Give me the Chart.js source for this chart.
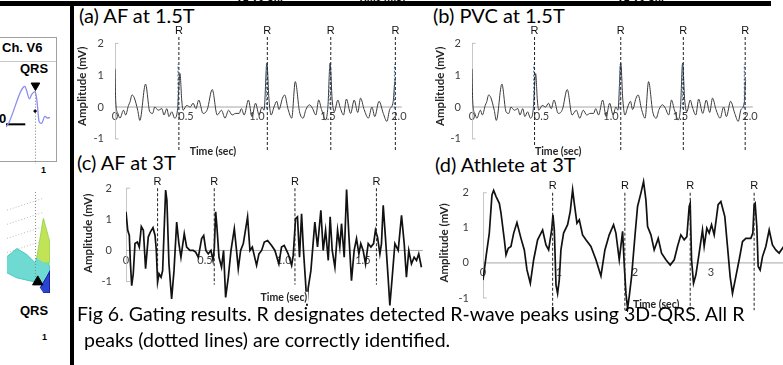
<!DOCTYPE html>
<html>
<head>
<meta charset="utf-8">
<title>Fig 6. Gating results</title>
<script src="https://cdn.jsdelivr.net/npm/chart.js@4.4.1/dist/chart.umd.min.js"></script>
<style>
  html, body { margin: 0; padding: 0; background: #fff; }
  #page { position: relative; width: 783px; height: 365px; overflow: hidden; font-family: Lato, "Open Sans", sans-serif; color: #000; }
  #page canvas { position: absolute; }
  .bar { position: absolute; background: #000; z-index: 5; }
  .title { position: absolute; font-size: 20px; line-height: 22px; white-space: nowrap; }
  .caption { position: absolute; font-size: 20px; line-height: 26px; white-space: nowrap; }
  .cut { position: absolute; font: bold 10px "Liberation Sans", Arial, sans-serif; line-height: 10px; white-space: nowrap; }
  .lbl { position: absolute; font-family: "Liberation Sans", Arial, sans-serif; font-weight: bold; white-space: nowrap; line-height: 1; }
</style>
</head>
<body>
<div id="page">
  <!-- bottom edge of the figure above, cut off -->
  <div class="cut" style="left:236px;top:-7px">V1-V6 Ch.</div>
  <div class="cut" style="left:358px;top:-7px">Time [ms]</div>
  <div class="cut" style="left:617px;top:-7px">V1-V6 Ch.</div>
  <div class="bar" style="left:0;top:1px;width:771px;height:5px"></div>
  <div class="bar" style="left:70px;top:1px;width:4px;height:364px"></div>

  <!-- left strip: cropped part of the previous figure -->
  <div style="position:absolute;left:-1px;top:37px;width:56px;height:123px;border:1px solid #a0a0a0;"></div>
  <div style="position:absolute;left:0;top:61px;width:56px;border-top:1px solid #c8c8c8;"></div>
  <div class="lbl" style="left:2px;top:41px;font-size:13px">Ch. V6</div>
  <div class="lbl" style="left:20px;top:62px;font-size:13px">QRS</div>
  <div class="lbl" style="left:-1px;top:112px;font-size:13px">0</div>
  <div class="lbl" style="left:41px;top:166px;font-size:9px">1</div>
  <canvas id="v6Chart" width="56" height="109" style="left:0;top:61px"></canvas>
  <canvas id="surfChart" width="57" height="115" style="left:0;top:185px"></canvas>
  <div class="lbl" style="left:20px;top:304px;font-size:13px">QRS</div>
  <div class="lbl" style="left:42px;top:333px;font-size:9px">1</div>

  <div class="title" style="left:79px;top:4px">(a) AF at 1.5T</div>
  <div class="title" style="left:433px;top:4px">(b) PVC at 1.5T</div>
  <div class="title" style="left:77px;top:151px">(c) AF at 3T</div>
  <div class="title" style="left:435px;top:153px">(d) Athlete at 3T</div>

  <canvas id="chartA" width="335" height="138" style="left:76px;top:26px"></canvas>
  <canvas id="chartB" width="329" height="138" style="left:433px;top:26px"></canvas>
  <canvas id="chartC" width="352" height="140" style="left:78px;top:172px"></canvas>
  <canvas id="chartD" width="348" height="147" style="left:435px;top:168px"></canvas>

  <div class="caption" id="cap1" style="left:77px;top:301px">Fig 6. Gating results. R designates detected R-wave peaks using 3D-QRS. All R</div>
  <div class="caption" id="cap2" style="left:79px;top:327px">&nbsp;peaks (dotted lines) are correctly identified.</div>
</div>

<script>
// ---- data ----

// (a) AF at 1.5T  (time in sec, amplitude in mV)
var timeA = [0,0.005,0.02,0.035,0.06,0.075,0.095,0.105,0.12,0.135,0.16,0.175,0.215,0.245,0.265,0.28,0.305,0.33,0.345,0.365,
  0.38,0.40,0.42,0.44,0.458,0.47,0.48,0.505,0.53,0.55,0.57,0.59,0.62,0.65,0.685,0.72,0.75,0.775,0.80,0.825,
  0.85,0.875,0.89,0.91,0.94,0.965,0.99,1.015,1.035,1.05,1.07,1.085,1.10,1.12,1.14,1.155,1.18,1.195,1.22,1.245,
  1.27,1.30,1.325,1.345,1.37,1.39,1.415,1.435,1.455,1.485,1.50,1.515,1.53,1.545,1.57,1.585,1.61,1.63,1.66,1.685,
  1.71,1.73,1.755,1.785,1.81,1.83,1.86,1.89,1.915,1.935,1.96,1.97,1.975];
var ampA = [1.2,0.2,-0.2,-0.35,-0.1,-0.25,0.05,0.15,0.38,0.3,-0.1,-0.42,0.72,-0.15,-0.2,0.0,-0.1,-0.05,-0.25,-0.05,
  -0.3,-0.15,-0.35,-0.1,1.05,0.22,-0.1,0.05,0.0,0.12,-0.05,0.22,-0.2,-0.08,0.55,-0.25,-0.1,-0.35,-0.1,-0.25,
  -0.2,-0.2,-0.05,-0.25,0.22,-0.3,0.12,-0.25,0.0,-0.1,1.38,0.22,-0.25,0.0,0.18,-0.08,0.28,0.38,-0.08,-0.35,
  0.8,-0.15,-0.35,-0.08,0.07,-0.03,-0.25,0.22,-0.08,-0.4,0.02,1.38,0.22,-0.15,0.22,0.0,-0.25,0.25,-0.2,0.22,
  -0.17,0.28,-0.08,-0.35,0.0,-0.3,0.18,-0.2,-0.45,-0.08,0.18,0.75,0.85];
var rTimesA = [0.45, 1.073, 1.52, 1.975];

// (b) PVC at 1.5T
var timeB = [0,0.005,0.02,0.035,0.06,0.075,0.095,0.105,0.12,0.135,0.16,0.175,0.215,0.245,0.265,0.28,0.305,0.33,0.345,0.365,
  0.38,0.40,0.42,0.44,0.458,0.47,0.48,0.505,0.53,0.55,0.57,0.59,0.62,0.65,0.685,0.72,0.75,0.775,0.80,0.825,
  0.85,0.875,0.89,0.91,0.94,0.965,0.99,1.015,1.035,1.05,1.07,1.085,1.10,1.12,1.14,1.155,1.18,1.195,1.22,1.245,
  1.27,1.30,1.325,1.345,1.37,1.39,1.415,1.435,1.455,1.485,1.50,1.515,1.53,1.545,1.57,1.585,1.61,1.63,1.66,1.685,
  1.71,1.73,1.755,1.785,1.81,1.83,1.86,1.89,1.915,1.935,1.96,1.965,1.97];
var ampB = [1.2,0.2,-0.2,-0.35,-0.1,-0.25,0.05,0.15,0.38,0.3,-0.1,-0.42,0.72,-0.15,-0.2,0.0,-0.1,-0.05,-0.25,-0.05,
  -0.3,-0.15,-0.35,-0.1,1.05,0.22,-0.1,0.05,0.0,0.12,-0.05,0.22,-0.2,-0.08,0.55,-0.25,-0.1,-0.35,-0.1,-0.25,
  -0.2,-0.2,-0.05,-0.25,0.22,-0.3,0.12,-0.25,0.0,-0.1,1.38,0.22,-0.25,0.0,0.18,-0.08,0.28,0.38,-0.08,-0.35,
  0.8,-0.15,-0.35,-0.08,0.07,-0.03,-0.25,0.22,-0.08,-0.4,0.02,1.38,0.22,-0.15,0.22,0.0,-0.25,0.25,-0.2,0.22,
  -0.17,0.28,-0.08,-0.35,0.0,-0.3,0.18,-0.2,-0.45,-0.08,0.18,0.75,0.85];
var rTimesB = [0.45, 1.07, 1.52, 1.965];

// (c) AF at 3T
var timeC = [0,0.011,0.021,0.027,0.036,0.046,0.057,0.072,0.084,0.097,0.11,0.124,0.141,0.154,0.171,0.184,0.192,0.2,0.209,0.222,
  0.232,0.243,0.251,0.259,0.272,0.289,0.304,0.321,0.335,0.348,0.369,0.384,0.405,0.426,0.441,0.458,0.479,0.492,0.506,0.521,
  0.538,0.551,0.559,0.568,0.576,0.589,0.605,0.618,0.631,0.648,0.665,0.686,0.7,0.711,0.726,0.743,0.77,0.785,0.8,0.827,
  0.842,0.859,0.876,0.897,0.922,0.943,0.968,0.985,1.002,1.027,1.049,1.059,1.074,1.086,1.099,1.112,1.124,1.137,1.146,1.154,1.171,
  1.196,1.213,1.234,1.249,1.264,1.281,1.293,1.306,1.323,1.34,1.354,1.365,1.382,1.397,1.411,1.428,1.445,1.46,1.475,1.487,
  1.502,1.517,1.534,1.551,1.568,1.58,1.593,1.608,1.618,1.629,1.643,1.66,1.671,1.686,1.703,1.724,1.745,1.762,1.776,1.791,
  1.808,1.825,1.84,1.854,1.871];
var ampC = [1.24,0.65,0.48,-0.32,-1.13,-0.75,0.22,0.27,0.11,0.77,0.65,-0.59,0.43,0.59,0.73,0.48,0.0,-1.02,-0.75,-0.86,
  -0.65,0.86,1.94,1.61,-0.43,-1.56,-0.65,0.91,0.22,-0.22,0.54,0.11,0.0,0.0,-0.05,-0.22,0.38,0.48,0.0,-0.11,
  0.0,-0.32,0.05,1.24,0.75,-0.22,-0.54,0.0,-1.51,-0.86,0.0,0.7,0.0,-0.59,0.0,0.22,1.08,0.0,0.11,-0.48,
  -0.11,0.0,0.27,0.32,0.16,0.0,-0.43,0.11,0.16,-0.11,-0.48,-0.16,1.02,1.08,-0.22,1.18,0.0,-1.0,-1.78,-1.2,-0.65,
  0.91,0.11,1.29,0.0,0.65,-0.32,1.08,0.0,-0.54,0.65,0.11,0.86,-0.22,1.96,0.54,-0.97,0.0,0.38,-0.11,0.22,
  0.0,-0.43,0.22,0.11,0.22,0.65,0.43,-0.11,0.22,1.45,0.43,-0.86,-1.77,-0.86,0.22,0.0,1.13,0.22,-0.86,0.0,
  -0.43,-0.22,-0.32,-0.11,-0.54];
var rTimesC = [0.2, 0.559, 1.07, 1.586];

// (d) Athlete at 3T
var timeD = [0,0.04,0.083,0.118,0.14,0.171,0.215,0.237,0.281,0.303,0.333,0.368,0.404,0.447,0.5,0.544,0.579,0.623,0.667,0.719,
  0.785,0.829,0.864,0.904,0.921,0.939,0.961,0.982,1.004,1.026,1.061,1.114,1.149,1.18,1.202,1.237,1.268,1.311,1.355,1.421,
  1.487,1.553,1.605,1.662,1.719,1.75,1.794,1.838,1.86,1.882,1.904,1.925,1.956,2.0,2.035,2.079,2.114,2.145,2.167,2.211,
  2.254,2.307,2.351,2.408,2.465,2.518,2.561,2.605,2.649,2.684,2.715,2.728,2.746,2.772,2.803,2.846,2.89,2.912,2.947,2.978,
  3.009,3.044,3.096,3.132,3.184,3.219,3.254,3.285,3.329,3.373,3.417,3.461,3.526,3.553,3.57,3.583,3.605,3.623,3.649,3.68,
  3.724,3.768,3.811,3.855,3.899,3.96];
var ampD = [-0.49,0.18,0.85,1.94,2.07,1.9,1.7,1.42,0.66,0.23,0.42,0.47,0.85,1.15,0.7,0.37,-0.2,-0.58,0.09,0.66,
  0.94,0.51,0.37,0.94,1.37,0.94,-0.63,-0.87,-0.49,0.37,0.85,1.09,1.47,2.09,1.7,1.13,1.23,0.8,0.66,0.47,
  0.09,-0.37,0.37,0.8,1.09,0.85,0.09,0.9,-0.06,-0.87,-1.3,-0.96,-0.39,0.75,1.61,1.99,2.32,1.8,1.04,0.8,
  0.37,0.7,0.28,0.09,-0.06,0.09,0.47,0.8,0.66,0.75,1.61,1.7,0.09,-0.58,-0.34,0.28,0.94,0.47,0.99,0.85,
  1.09,0.8,1.66,1.75,1.32,0.47,-0.39,-0.87,-0.39,0.09,0.61,0.7,0.7,0.85,1.66,1.7,1.04,-0.1,-0.2,0.18,
  0.47,0.94,0.51,0.37,0.28,0.47];
var rTimesD = [0.917, 1.868, 2.728, 3.57];

var yTicks = [-1, 0, 1, 2];
var xTicksSec = [0, 0.5, 1, 1.5, 2];
var xTicksD = [0, 1, 2, 3];

// left strip (cropped V6 trace and 3D surface of the previous figure, arbitrary units)
var v6Time = [0,0.1,0.2,0.32,0.42,0.51,0.56,0.61,0.69,0.76,0.86,0.91,0.98,1.05,1.15,1.23,1.3];
var v6Amp = [0.32,0.38,0.48,0.61,0.71,0.77,0.78,0.73,0.64,0.69,0.72,0.63,0.38,0.36,0.44,0.42,0.43];
var v6Qrs = 0.87;

var surfTealX = [0,0.3,0.6,0.85,1.0,1.1,1.2,1.3,1.3,1.0,0.7,0.3,0];
var surfTealY = [0.36,0.44,0.38,0.3,0.45,0.72,0.42,0.22,0.06,0.1,0.12,0.15,0.2];
var surfPeakX = [0.9,1.1,1.25,1.3,1.3,1.12];
var surfPeakY = [0.35,0.74,0.56,0.5,0.3,0.3];
var surfBlueX = [1.0,1.2,1.3,1.3,1.1];
var surfBlueY = [0.05,0.16,0.22,0.0,0.0];
var surfGridY = [0.88, 0.74, 0.6, 0.46];

// ---- drawing ----

function pts(xs, ys) {
  return xs.map(function (x, i) { return { x: x, y: ys[i] }; });
}

// R labels, the y title and the x title (white backed, as in the figure), placed through the chart scales
var panelText = {
  id: 'panelText',
  afterDraw: function (chart) {
    var o = chart.options.plugins.panelText;
    if (!o) return;
    var ctx = chart.ctx, xs = chart.scales.x, ys = chart.scales.y;
    ctx.save();
    ctx.fillStyle = '#111';
    ctx.textAlign = 'center';
    ctx.textBaseline = 'bottom';
    ctx.font = '11px "Liberation Sans", Arial, sans-serif';
    o.rTimes.forEach(function (t) {
      ctx.fillText('R', xs.getPixelForValue(t), ys.getPixelForValue(o.rTop) - 1);
    });

    ctx.font = 'bold 10.5px Lato, sans-serif';
    ctx.textBaseline = 'middle';
    var tx = xs.getPixelForValue(o.titleX), ty = ys.getPixelForValue(o.titleY);
    var tw = ctx.measureText('Time (sec)').width;
    ctx.fillStyle = '#fff';
    ctx.fillRect(tx - tw / 2 - 1, ty - 6, tw + 2, 12);
    ctx.fillStyle = '#262626';
    ctx.fillText('Time (sec)', tx, ty);

    ctx.font = 'bold 11.5px Lato, sans-serif';
    ctx.translate(o.yTitleX, ys.getPixelForValue(o.yTitleMid));
    ctx.rotate(-Math.PI / 2);
    ctx.fillText('Amplitude (mV)', 0, 0);
    ctx.restore();
  }
};

function makePanel(id, p) {
  var line = { showLine: true, pointRadius: 0, fill: false };
  var datasets = [];

  p.rTimes.forEach(function (t) {
    datasets.push(Object.assign({}, line, {
      data: [{ x: t, y: p.rTop }, { x: t, y: p.rBottom }],
      borderColor: '#222', borderWidth: 1, borderDash: [3, 2]
    }));
    if (p.blue) {
      datasets.push(Object.assign({}, line, {
        data: [{ x: t - 0.006, y: -0.05 }, { x: t - 0.006, y: 1.35 }],
        borderColor: '#4f81bd', borderWidth: 1.2, borderDash: [2, 2]
      }));
    }
  });

  datasets.push(Object.assign({}, line, {
    data: pts(p.time, p.amp),
    borderColor: p.color, borderWidth: p.lineWidth,
    cubicInterpolationMode: p.smooth ? 'monotone' : 'default',
    tension: p.smooth ? 0.4 : 0
  }));

  // axis lines: zero line and the y axis with its end ticks
  datasets.push(Object.assign({}, line, {
    data: [{ x: 0, y: 0 }, { x: p.zeroEnd, y: 0 }],
    borderColor: '#a6a6a6', borderWidth: 1
  }));
  datasets.push(Object.assign({}, line, {
    data: [{ x: p.tickLen, y: 2 }, { x: 0, y: 2 }, { x: 0, y: -1 }, { x: p.tickLen, y: -1 }],
    borderColor: '#bfbfbf', borderWidth: 1
  }));

  var tickFont = { family: 'Lato', size: 11 };

  return new Chart(document.getElementById(id), {
    type: 'scatter',
    data: { datasets: datasets },
    plugins: [panelText],
    options: {
      responsive: false,
      animation: false,
      events: [],
      layout: { padding: { top: p.padTop, bottom: p.padBottom, right: p.padRight, left: 0 } },
      plugins: {
        legend: { display: false },
        tooltip: { enabled: false },
        panelText: { rTimes: p.rTimes, rTop: p.rTop, titleX: p.titleX, titleY: p.titleY,
                     yTitleX: p.yTitleX, yTitleMid: p.yTitleMid }
      },
      scales: {
        x: {
          type: 'linear', min: 0, max: p.xMax, position: { y: 0 },
          afterBuildTicks: function (s) { s.ticks = p.xTicks.map(function (v) { return { value: v }; }); },
          afterFit: function (s) { s.paddingLeft = 0; s.paddingRight = 0; },
          grid: { display: false, drawTicks: false },
          border: { display: false },
          ticks: { padding: p.xTickPad, font: tickFont, color: '#404040', autoSkip: false, maxRotation: 0 }
        },
        y: {
          type: 'linear', min: p.yMin, max: p.yMax, position: 'left',
          afterBuildTicks: function (s) { s.ticks = yTicks.map(function (v) { return { value: v }; }); },
          afterFit: function (s) { s.width = p.axisW; s.paddingTop = 0; s.paddingBottom = 0; },
          grid: { display: false, drawTicks: false },
          border: { display: false },
          ticks: { padding: p.yTickPad, font: tickFont, color: '#404040' }
        }
      }
    }
  });
}

makePanel('chartA', {
  time: timeA, amp: ampA, rTimes: rTimesA, xTicks: xTicksSec, xMax: 2.05, zeroEnd: 2.02,
  yMin: -1.35, yMax: 2.2, rTop: 2.2, rBottom: -1.35, axisW: 39, padTop: 11, padBottom: 14, padRight: 5,
  tickLen: 0.025, lineWidth: 1, color: '#3a3a3a', smooth: true, blue: true,
  titleX: 0.69, titleY: -1.4, yTitleX: 6, yTitleMid: 0.65, yTickPad: 11, xTickPad: 3
});
makePanel('chartB', {
  time: timeB, amp: ampB, rTimes: rTimesB, xTicks: xTicksSec, xMax: 2.05, zeroEnd: 2.02,
  yMin: -1.35, yMax: 2.2, rTop: 2.2, rBottom: -1.35, axisW: 39, padTop: 11, padBottom: 14, padRight: 5,
  tickLen: 0.025, lineWidth: 1, color: '#3a3a3a', smooth: true, blue: true,
  titleX: 0.62, titleY: -1.4, yTitleX: 7, yTitleMid: 0.65, yTickPad: 11, xTickPad: 3
});
makePanel('chartC', {
  time: timeC, amp: ampC, rTimes: rTimesC, xTicks: xTicksSec.slice(0, 4), xMax: 1.9, zeroEnd: 1.88,
  yMin: -1.85, yMax: 2.2, rTop: 2.0, rBottom: -1.1, axisW: 48, padTop: 10, padBottom: 4, padRight: 4,
  tickLen: 0.025, lineWidth: 1.7, color: '#111', smooth: false, blue: false,
  titleX: 1.0, titleY: -1.52, yTitleX: 10, yTitleMid: 0.55, yTickPad: 14, xTickPad: 3
});
makePanel('chartD', {
  time: timeD, amp: ampD, rTimes: rTimesD, xTicks: xTicksD, xMax: 3.95, zeroEnd: 3.95,
  yMin: -1.4, yMax: 2.45, rTop: 2.0, rBottom: -1.35, axisW: 48, padTop: 9, padBottom: 3, padRight: 0,
  tickLen: 0.05, lineWidth: 1.7, color: '#111', smooth: false, blue: false,
  titleX: 2.28, titleY: -1.2, yTitleX: 9, yTitleMid: 0.57, yTickPad: 14, xTickPad: 3
});

// left strip charts
new Chart(document.getElementById('v6Chart'), {
  type: 'scatter',
  data: {
    datasets: [
      { data: [{ x: v6Qrs, y: 0.79 }], pointStyle: 'triangle', rotation: 180, pointRadius: 5,
        backgroundColor: '#000', borderColor: '#000' },
      { data: [{ x: v6Qrs - 0.01, y: 0.5 }], pointRadius: 1.2, backgroundColor: '#000', borderColor: '#000' },
      { data: [{ x: v6Qrs, y: 0.72 }, { x: v6Qrs, y: -0.1 }], showLine: true, pointRadius: 0,
        borderColor: '#777', borderWidth: 1, borderDash: [1, 2] },
      { data: pts(v6Time, v6Amp), showLine: true, pointRadius: 0, borderColor: '#8c8cf0', borderWidth: 1.3,
        cubicInterpolationMode: 'monotone' },
      { data: [{ x: 0, y: 0.35 }, { x: 0.57, y: 0.35 }], showLine: true, pointRadius: 0,
        borderColor: '#000', borderWidth: 2 }
    ]
  },
  options: { responsive: false, animation: false, events: [],
    plugins: { legend: { display: false }, tooltip: { enabled: false } },
    scales: { x: { type: 'linear', display: false, min: 0, max: 1.3 },
              y: { type: 'linear', display: false, min: -0.1, max: 1.0 } } }
});

var surfSets = [
  { data: [{ x: 0.93, y: 0.11 }], pointStyle: 'triangle', pointRadius: 6, backgroundColor: '#000', borderColor: '#000' },
  { data: [{ x: 0.86, y: 1.0 }, { x: 0.86, y: 0.15 }], showLine: true, pointRadius: 0,
    borderColor: '#888', borderWidth: 1, borderDash: [1, 2] },
  { data: pts(surfBlueX, surfBlueY), showLine: true, fill: 'shape', pointRadius: 0,
    borderColor: '#1b1b9a', backgroundColor: '#2a45d0', borderWidth: 1 },
  { data: pts(surfPeakX, surfPeakY), showLine: true, fill: 'shape', pointRadius: 0,
    borderColor: '#9bd85a', backgroundColor: '#c2e356', borderWidth: 1 },
  { data: pts(surfTealX, surfTealY), showLine: true, fill: 'shape', pointRadius: 0,
    borderColor: '#48c9c0', backgroundColor: '#6fdad2', borderWidth: 1 }
];
surfGridY.forEach(function (g) {
  surfSets.push({ data: [{ x: 0, y: g - 0.06 }, { x: 1.12, y: g + 0.06 }], showLine: true, pointRadius: 0,
    borderColor: '#bbb', borderWidth: 1, borderDash: [1, 2] });
});
new Chart(document.getElementById('surfChart'), {
  type: 'scatter',
  data: { datasets: surfSets },
  options: { responsive: false, animation: false, events: [],
    plugins: { legend: { display: false }, tooltip: { enabled: false } },
    scales: { x: { type: 'linear', display: false, min: 0, max: 1.3 },
              y: { type: 'linear', display: false, min: 0, max: 1.0 } } }
});

// fit the caption to the width it has in the figure
var cap1 = document.getElementById('cap1'), cap2 = document.getElementById('cap2');
var capSize = 20 * 668 / cap1.offsetWidth;
cap1.style.fontSize = capSize + 'px';
cap2.style.fontSize = capSize + 'px';
</script>
</body>
</html>
